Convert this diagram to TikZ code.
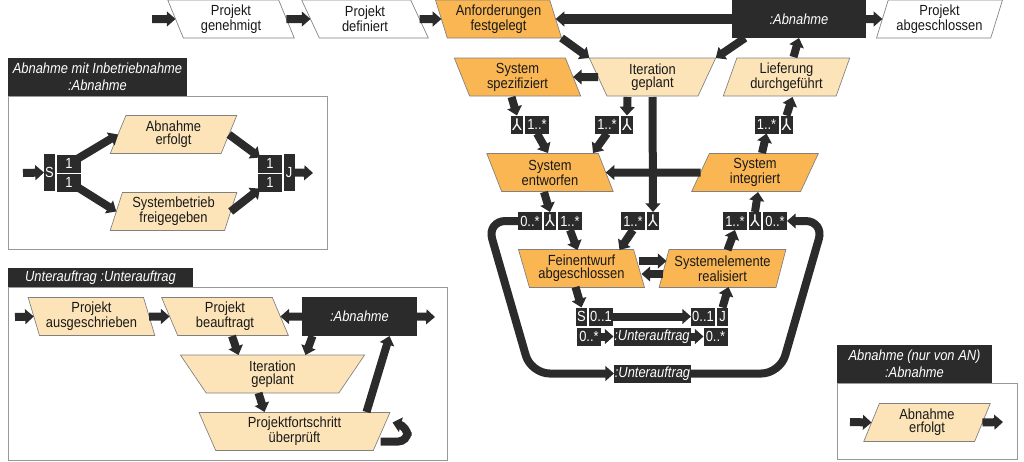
\documentclass[tikz,border=0pt]{standalone}
\usepackage{fontspec}
\setmainfont{Liberation Sans}[FakeStretch=0.88]
\newfontfamily\symfont{DejaVu Sans}
\usetikzlibrary{shapes.geometric,arrows.meta,positioning}
\definecolor{dk}{RGB}{43,43,43}
\definecolor{orD}{RGB}{249,182,83}
\definecolor{orL}{RGB}{253,228,184}
\definecolor{rim}{RGB}{128,128,128}
\newcommand\dgfont{\fontsize{11}{9.5}\selectfont}
\newcommand\hdfont{\fontsize{11}{13}\selectfont\itshape}
\newcommand\fork{{\symfont\fontsize{12}{12}\selectfont ⅄}}

\begin{document}
\begin{tikzpicture}[x=0.75pt,y=-0.75pt,
  evt/.style={trapezium, trapezium stretches=true, draw=rim, line width=0.5pt,
    inner sep=0pt, outer sep=0pt, minimum width=95.25pt, minimum height=28.5pt,
    align=center, font=\dgfont, text=black!90},
  lean/.style={evt, trapezium left angle=109, trapezium right angle=71},
  tilt/.style={evt, trapezium left angle=71, trapezium right angle=109},
  funnel/.style={evt, trapezium left angle=109, trapezium right angle=109},
  hot/.style={fill=orD}, pale/.style={fill=orL}, plain/.style={fill=white},
  blk/.style={fill=dk, text=white, inner sep=0pt, outer sep=0pt, align=center,
    font=\dgfont\itshape},
  mult/.style={fill=dk, text=white, inner sep=0pt, outer sep=0pt,
    minimum width=18pt, minimum height=13.5pt, font=\dgfont},
  yy/.style={mult, minimum width=9pt},
  sj/.style={mult, minimum width=8.25pt},
  arr/.style={draw=dk, line width=6pt, -{Triangle[width=11pt,length=6.5pt]}},
  frame/.style={draw=rim!80, line width=0.75pt}]
  \useasboundingbox (0,0) rectangle (1024,461);

  % frames of the three sub-processes
  \draw[frame] (8,96) rectangle (327,249);
  \draw[frame] (8,287) rectangle (447,460);
  \draw[frame] (837,383) rectangle (1017,459);

  % main process
  \coordinate (in0) at (152,19);
  \node[lean,plain] (pg) at (231,19) {Projekt\\genehmigt};
  \node[lean,plain] (pd) at (365,19) {Projekt\\definiert};
  \node[lean,hot] (af) at (498.5,19) {Anforderungen\\festgelegt};
  \node[blk, minimum width=100.5pt, minimum height=28.5pt] (abn) at (799,19) {:Abnahme};
  \node[tilt,plain] (pa) at (939.5,19) {Projekt\\abgeschlossen};

  \node[lean,hot] (ss) at (517.5,77) {System\\spezifiziert};
  \node[funnel,pale] (ig) at (652.5,77) {Iteration\\geplant};
  \node[tilt,pale] (ld) at (786.5,77) {Lieferung\\durchgeführt};

  \node[yy] (mA1) at (517,124.5) {\fork};
  \node[mult,right=1.5pt of mA1] (mA2) {1..*};
  \node[mult] (mB1) at (607,124.5) {1..*};
  \node[yy,right=1.5pt of mB1] (mB2) {\fork};
  \node[mult] (mC1) at (766.5,124.5) {1..*};
  \node[yy,right=1.5pt of mC1] (mC2) {\fork};

  \node[lean,hot] (se) at (550,172.5) {System\\entworfen};
  \node[tilt,hot] (si) at (755,172.5) {System\\integriert};

  \node[mult] (mD1) at (530,221) {0..*};
  \node[yy,right=1.5pt of mD1] (mD2) {\fork};
  \node[mult,right=1.5pt of mD2] (mD3) {1..*};
  \node[mult] (mE1) at (633,221) {1..*};
  \node[yy,right=1.5pt of mE1] (mE2) {\fork};
  \node[mult] (mF1) at (735,221) {1..*};
  \node[yy,right=1.5pt of mF1] (mF2) {\fork};
  \node[mult,right=1.5pt of mF2] (mF3) {0..*};

  \node[lean,hot] (fa) at (581.5,268.5) {Feinentwurf\\abgeschlossen};
  \node[tilt,hot] (sr) at (722.5,268.5) {Systemelemente\\realisiert};

  \node[sj] (sS) at (581.5,316.5) {S};
  \node[mult,right=1.5pt of sS] (sS1) {0..1};
  \node[mult] (jJ1) at (703,316.5) {0..1};
  \node[sj,right=1.5pt of jJ1] (jJ) {J};
  \node[mult] (uA) at (589,336.5) {0..*};
  \node[mult,font=\dgfont\itshape,minimum width=57.75pt] (ua) at (652,336.5) {:Unterauftrag};
  \node[mult] (uB) at (715.5,336.5) {0..*};
  \node[mult,font=\dgfont\itshape,minimum width=57.75pt] (ub) at (652.5,373.5) {:Unterauftrag};

  \draw[arr] (in0) -- (pg.west);
  \draw[arr] (pg.east) -- (pd.west);
  \draw[arr] (pd.east) -- (af.west);
  \draw[arr,line width=7.5pt] (abn.west) -- (af.east);
  \draw[arr] (abn.east) -- (pa.west);
  \draw[arr] (af.bottom right corner) -- (ig.top left corner);
  \draw[arr] ([shift={(-54,0)}]abn.south) -- (ig.top right corner);
  \draw[arr] (ig.west) -- (ss.east);
  \draw[arr] ([shift={(7,-20)}]ld.center) -- (abn.south);

  \draw[arr] ([shift={(-6,20)}]ss.center) -- (mA1.north);
  \draw[arr] (mA2.south) -- ([shift={(-2,-19.5)}]se.center);
  \draw[arr] ([shift={(-25,20)}]ig.center) -- (mB2.north);
  \draw[arr] (mB1.south) -- ([shift={(43,-19.5)}]se.center);
  \draw[arr] ([shift={(0,20)}]ig.center) -- (mE2.north);
  \draw[arr] (si.west) -- (se.east);
  \draw[arr] ([shift={(7,-19.5)}]si.center) -- (mC1.south);
  \draw[arr] (mC2.north) -- ([shift={(6,20)}]ld.center);

  \draw[arr] ([shift={(-6,19.5)}]se.center) -- (mD2.north);
  \draw[arr] (mD3.south) -- ([shift={(-4,-18.5)}]fa.center);
  \draw[arr] (mE1.south) -- ([shift={(38,-18.5)}]fa.center);
  \draw[arr] ([shift={(5,-18.5)}]sr.center) -- (mF1.south);
  \draw[arr] (mF2.north) -- ([shift={(3,19.5)}]si.center);

  \draw[arr] ([shift={(57,-7.5)}]fa.center) -- ([shift={(-56,-7.5)}]sr.center);
  \draw[arr] ([shift={(-60,5.5)}]sr.center) -- ([shift={(60,5.5)}]fa.center);

  \draw[arr] ([shift={(-6,18.5)}]fa.center) -- (sS.north);
  \draw[arr] (sS1.east) -- (jJ1.west);
  \draw[arr] (jJ.north) -- ([shift={(6,18.5)}]sr.center);
  \draw[arr] (uA.east) -- (ua.west);
  \draw[arr] (ua.east) -- (uB.west);

  \draw[arr,rounded corners=14pt] (mD1.west) -- (487,221) -- (531,373.5) -- (ub.west);
  \draw[arr,rounded corners=14pt] (ub.east) -- (780,373.5) -- (824,221) -- (mF3.east);

  % Abnahme mit Inbetriebnahme
  \node[blk,font=\hdfont,minimum width=134.25pt,minimum height=28.5pt] (h1) at (97.5,77)
    {Abnahme mit Inbetriebnahme\\:Abnahme};
  \coordinate (b1in) at (23,173);
  \node[sj,minimum height=27.75pt] (bS) at (49.5,172.5) {S};
  \node[mult] (b1a) at (69,163.5) {1};
  \node[mult] (b1b) at (69,182.5) {1};
  \node[tilt,pale] (bAe) at (173.5,134.5) {Abnahme\\erfolgt};
  \node[tilt,pale] (bSf) at (173.5,211.5) {Systembetrieb\\freigegeben};
  \node[mult] (bJa) at (270,163.5) {1};
  \node[mult] (bJb) at (270,182.5) {1};
  \node[sj,minimum height=27.75pt] (bJ) at (289,172.5) {J};
  \coordinate (b1out) at (313,173);

  \draw[arr] (b1in) -- (bS.west);
  \draw[arr] ([shift={(9,-5)}]b1a.center) -- (bAe.west);
  \draw[arr] (bAe.east) -- ([shift={(-10,-6)}]bJa.center);
  \draw[arr] ([shift={(9,5)}]b1b.center) -- (bSf.west);
  \draw[arr] (bSf.east) -- ([shift={(-10,6)}]bJb.center);
  \draw[arr] (bJ.east) -- (b1out);

  % Unterauftrag
  \node[blk,font=\hdfont,minimum width=138.75pt,minimum height=14.25pt] (h2) at (100.5,277.5)
    {Unterauftrag :Unterauftrag};
  \coordinate (b2in) at (15,317);
  \node[lean,pale] (c2pa) at (91.5,316.5) {Projekt\\ausgeschrieben};
  \node[lean,pale] (c2pb) at (225,316.5) {Projekt\\beauftragt};
  \node[blk,minimum width=86.25pt,minimum height=29.25pt] (c2ab) at (359.5,316.5) {:Abnahme};
  \coordinate (b2out) at (435,317);
  \node[funnel,pale,minimum width=138.75pt] (c2ig) at (272.5,374) {Iteration\\geplant};
  \node[funnel,pale,minimum width=143.25pt] (c2pf) at (294.5,431.5) {Projektfortschritt\\überprüft};

  \draw[arr] (b2in) -- (c2pa.west);
  \draw[arr] (c2pa.east) -- (c2pb.west);
  \draw[arr] (c2ab.west) -- (c2pb.east);
  \draw[arr] (c2ab.east) -- (b2out);
  \draw[arr] ([shift={(7,19.5)}]c2pb.center) -- ([shift={(-34,-19)}]c2ig.center);
  \draw[arr] ([shift={(-47,19.5)}]c2ab.center) -- ([shift={(33,-19)}]c2ig.center);
  \draw[arr] ([shift={(-14,19)}]c2ig.center) -- ([shift={(-30,-19.5)}]c2pf.center);
  \draw[arr] ([shift={(72,-19.5)}]c2pf.center) -- ([shift={(30,19.5)}]c2ab.center);
  \draw[arr,rounded corners=7pt] ([shift={(86,10)}]c2pf.center) -- ++(27,0) -- ++(0,-15) -- ++(-15,-4);

  % Abnahme (nur von AN)
  \node[blk,font=\hdfont,minimum width=116.25pt,minimum height=28.5pt] (h3) at (914.5,364)
    {Abnahme (nur von AN)\\:Abnahme};
  \coordinate (b3in) at (850,422);
  \node[tilt,pale] (d3ae) at (927,422.5) {Abnahme\\erfolgt};
  \coordinate (b3out) at (1003,422);

  \draw[arr] (b3in) -- (d3ae.west);
  \draw[arr] (d3ae.east) -- (b3out);
\end{tikzpicture}
\end{document}
